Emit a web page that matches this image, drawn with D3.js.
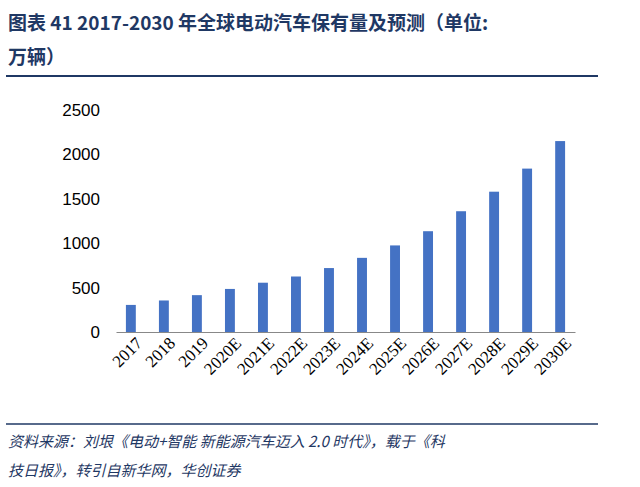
<!DOCTYPE html><html><head><meta charset="utf-8"><script src="https://cdn.jsdelivr.net/npm/d3@7"></script>
<style>body{margin:0;background:#fff}</style></head><body><svg id="c" width="640" height="487"></svg><script>
const categories=["2017","2018","2019","2020E","2021E","2022E","2023E","2024E","2025E","2026E","2027E","2028E","2029E","2030E"];
const values=[305,355,415,485,555,625,720,835,975,1135,1360,1580,1840,2150];
const yTicks=[0,500,1000,1500,2000,2500];
const svg=d3.select("#c");
const navy="#1f3864";
svg.append("text").attr("x",8).attr("y",30).attr("fill",navy).attr("font-family","Noto Sans CJK SC").attr("font-weight","bold").attr("font-size",19).text("图表 41 2017-2030 年全球电动汽车保有量及预测（单位:");
svg.append("text").attr("x",8).attr("y",64).attr("fill",navy).attr("font-family","Noto Sans CJK SC").attr("font-weight","bold").attr("font-size",19).text("万辆）");
svg.append("line").attr("x1",6).attr("x2",598).attr("y1",76).attr("y2",76).attr("stroke",navy).attr("stroke-width",2);
const x=d3.scaleBand().domain(categories).range([116,575]).paddingInner(0.7).paddingOuter(0.3);
const y=d3.scaleLinear().domain([0,2500]).range([332,110]);
svg.selectAll("rect").data(values).join("rect").attr("x",(d,i)=>x(categories[i])).attr("width",x.bandwidth()).attr("y",d=>y(d)).attr("height",d=>332-y(d)).attr("fill","#4472c4");
const ya=svg.append("g").attr("transform","translate(116,0)").call(d3.axisLeft(y).tickValues(yTicks).tickFormat(d3.format("d")).tickSize(0).tickPadding(16));
ya.select(".domain").remove();
ya.selectAll("text").attr("font-family","Liberation Sans").attr("font-size",17).attr("fill","#000");
const xa=svg.append("g").attr("transform","translate(0,332)").call(d3.axisBottom(x).tickSize(0));
xa.select(".domain").attr("stroke","#888");
xa.selectAll("text").attr("font-family","Liberation Serif").attr("font-size",17).attr("fill","#000").attr("text-anchor","end").attr("transform","translate(6,6) rotate(-45)").attr("dy","0.35em");
svg.append("line").attr("x1",6).attr("x2",598).attr("y1",424).attr("y2",424).attr("stroke",navy).attr("stroke-width",1.5);
svg.append("text").attr("x",8).attr("y",447).attr("fill",navy).attr("font-family","Noto Sans CJK SC").attr("font-style","italic").attr("font-size",15).text("资料来源：刘垠《电动+智能 新能源汽车迈入 2.0 时代》，载于《科");
svg.append("text").attr("x",8).attr("y",476).attr("fill",navy).attr("font-family","Noto Sans CJK SC").attr("font-style","italic").attr("font-size",15).text("技日报》，转引自新华网，华创证券");
</script></body></html>
